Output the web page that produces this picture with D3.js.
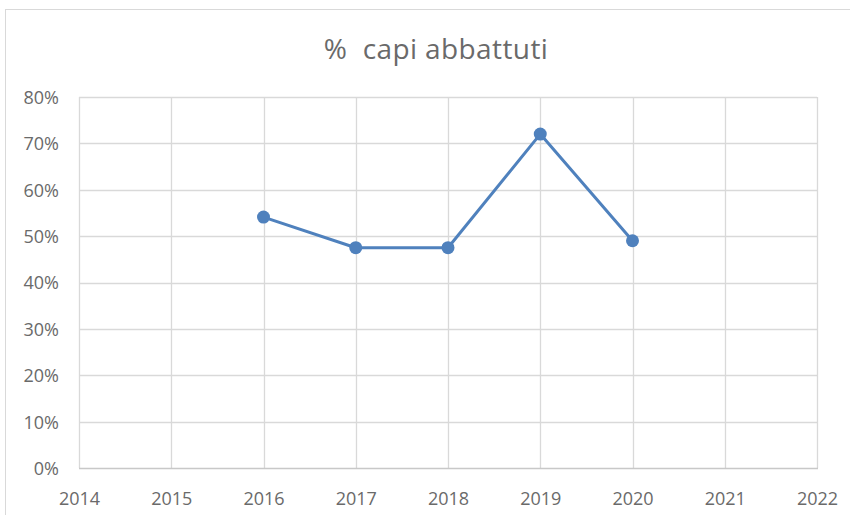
<!DOCTYPE html>
<html>
<head>
<meta charset="utf-8">
<script src="https://cdn.jsdelivr.net/npm/d3@7"></script>
<style>
  html, body { margin: 0; padding: 0; background: #fff; }
  svg { display: block; }
</style>
</head>
<body>
<svg id="chart" width="850" height="515"></svg>
<script>
const title = "%  capi abbattuti";
const years = [2016, 2017, 2018, 2019, 2020];
const values = [0.541, 0.475, 0.475, 0.72, 0.49];
const xTicks = [2014, 2015, 2016, 2017, 2018, 2019, 2020, 2021, 2022];
const yTicks = [0, 0.1, 0.2, 0.3, 0.4, 0.5, 0.6, 0.7, 0.8];

const svg = d3.select("#chart");
const W = 850, H = 515;
const m = { left: 79, right: 33, top: 97, bottom: 47 };
const font = "'Open Sans', 'Noto Sans', sans-serif";
const textColor = "#6a6a6a";
const gridColor = "#d9d9d9";
const lineColor = "#4f81bd";

svg.append("rect")
  .attr("x", 5.5).attr("y", 9.5)
  .attr("width", W + 10).attr("height", H + 10)
  .attr("fill", "#fff").attr("stroke", gridColor).attr("stroke-width", 1);

const x = d3.scaleLinear().domain([2014, 2022]).range([m.left, W - m.right]);
const y = d3.scaleLinear().domain([0, 0.8]).range([H - m.bottom, m.top]);

// horizontal gridlines
svg.append("g").selectAll("line").data(yTicks.filter(d => d > 0)).join("line")
  .attr("x1", x(2014)).attr("x2", x(2022))
  .attr("y1", d => Math.round(y(d)) + 0.5).attr("y2", d => Math.round(y(d)) + 0.5)
  .attr("stroke", gridColor).attr("stroke-width", 1.3);

// vertical gridlines
svg.append("g").selectAll("line").data(xTicks).join("line")
  .attr("x1", d => Math.round(x(d)) + 0.5).attr("x2", d => Math.round(x(d)) + 0.5)
  .attr("y1", y(0.8)).attr("y2", y(0))
  .attr("stroke", gridColor).attr("stroke-width", 1.3);

// x axis baseline
svg.append("line")
  .attr("x1", x(2014)).attr("x2", x(2022) + 1)
  .attr("y1", Math.round(y(0)) + 0.5).attr("y2", Math.round(y(0)) + 0.5)
  .attr("stroke", "#c8c8c8").attr("stroke-width", 1.5);

// y axis labels
const yAxis = d3.axisLeft(y).tickValues(yTicks).tickFormat(d3.format(".0%")).tickSize(0).tickPadding(20);
const gy = svg.append("g").attr("transform", `translate(${x(2014)},0)`).call(yAxis);
gy.select(".domain").remove();
gy.selectAll("text").attr("fill", textColor).attr("font-family", font).attr("font-size", 18).attr("dy", "0.36em");

// x axis labels
const xAxis = d3.axisBottom(x).tickValues(xTicks).tickFormat(d3.format("d")).tickSize(0).tickPadding(24);
const gx = svg.append("g").attr("transform", `translate(0,${y(0)})`).call(xAxis);
gx.select(".domain").remove();
gx.selectAll("text").attr("fill", textColor).attr("font-family", font).attr("font-size", 18);

// title
svg.append("text")
  .attr("x", 436).attr("y", 59)
  .attr("text-anchor", "middle")
  .attr("fill", textColor)
  .attr("font-family", font)
  .attr("font-size", 28)
  .attr("letter-spacing", 0.4)
  .style("white-space", "pre")
  .text(title);

const data = years.map((yr, i) => ({ yr, v: values[i] }));

svg.append("path").datum(data)
  .attr("fill", "none")
  .attr("stroke", lineColor)
  .attr("stroke-width", 3)
  .attr("stroke-linejoin", "round")
  .attr("d", d3.line().x(d => x(d.yr)).y(d => y(d.v)));

svg.append("g").selectAll("circle").data(data).join("circle")
  .attr("cx", d => x(d.yr)).attr("cy", d => y(d.v))
  .attr("r", 6.5)
  .attr("fill", lineColor);
</script>
</body>
</html>
